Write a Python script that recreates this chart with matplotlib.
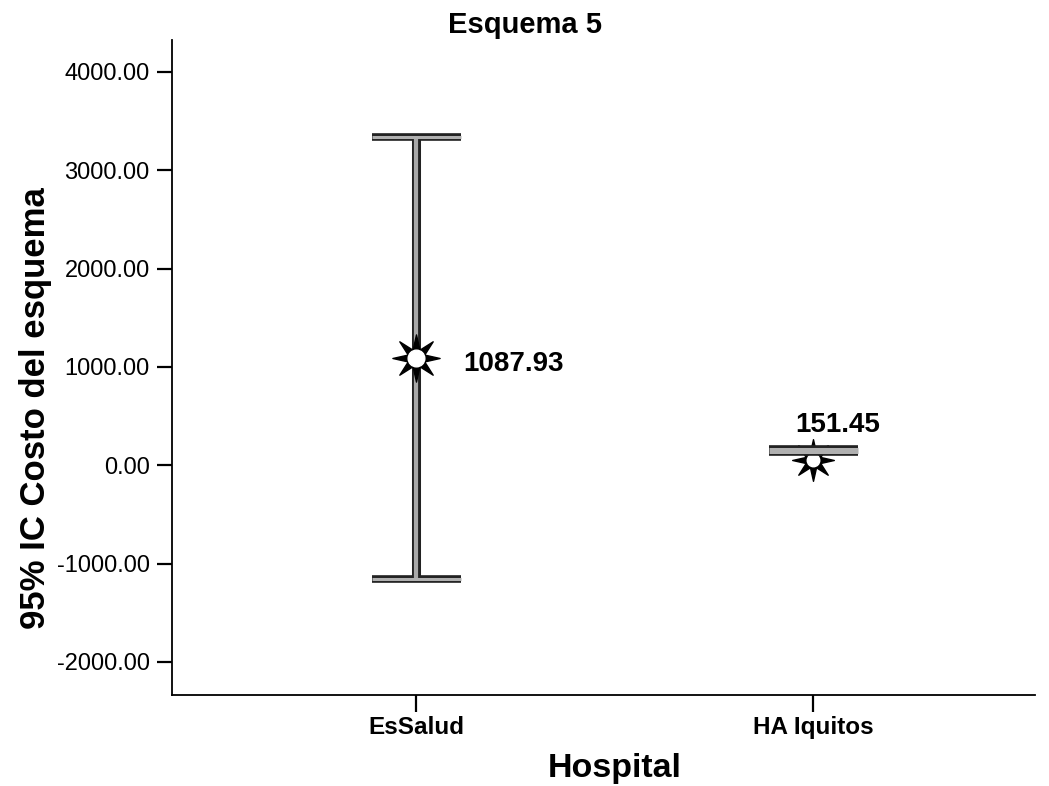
import matplotlib
matplotlib.use("Agg")
import matplotlib.pyplot as plt
from matplotlib.path import Path
import numpy as np

plt.rcParams['font.family'] = ['Liberation Sans', 'DejaVu Sans']

# Data
categories = ["EsSalud", "HA Iquitos"]
means = [1087.93, 151.45]
ci_low = [-1160.0, 138.0]
ci_high = [3335.0, 165.0]
mean_labels = ["1087.93", "151.45"]
yticks = [-2000, -1000, 0, 1000, 2000, 3000, 4000]

# sharp 8-point star marker shape
n_pts = 8
ang = np.arange(2 * n_pts) * np.pi / n_pts + np.pi / 2
rad = np.where(np.arange(2 * n_pts) % 2 == 0, 1.0, 0.38)
verts = np.column_stack([rad * np.cos(ang), rad * np.sin(ang)])
verts = np.vstack([verts, verts[:1]])
star = Path(verts, closed=True)

fig = plt.figure(figsize=(10.49, 7.86), dpi=100)
ax = fig.add_axes([172/1049, 1-695/786, (1035-172)/1049, (695-40)/786])

x = np.arange(len(categories))
cap_half = 0.112
for xi, lo, hi, m in zip(x, ci_low, ci_high, means):
    ax.plot([xi, xi], [lo, hi], color='#222222', lw=6.5, solid_capstyle='butt', zorder=2)
    ax.plot([xi, xi], [lo, hi], color='#a8a8a8', lw=3.0, solid_capstyle='butt', zorder=3)
    for yv in (lo, hi):
        ax.plot([xi-cap_half, xi+cap_half], [yv, yv], color='#222222', lw=5.5,
                solid_capstyle='butt', zorder=2)
        ax.plot([xi-cap_half, xi+cap_half], [yv, yv], color='#b0b0b0', lw=2.2,
                solid_capstyle='butt', zorder=3)

ax.plot(x[0], means[0], marker=star, markersize=34, color='black', zorder=5, linestyle='none')
ax.plot(x[0], means[0], marker='o', markersize=12, color='white', zorder=6, linestyle='none')
ax.plot(x[1], means[1] - 95, marker=star, markersize=30, color='black', zorder=1.5, linestyle='none')
ax.plot(x[1], means[1] - 95, marker='o', markersize=9, color='white', zorder=1.6, linestyle='none')

ax.annotate(mean_labels[0], (x[0], means[0]), xytext=(34, -4), textcoords='offset points',
            ha='left', va='center', fontsize=20, fontweight='bold')
ax.annotate(mean_labels[1], (x[1], means[1]), xytext=(18, 18), textcoords='offset points',
            ha='center', va='center', fontsize=20, fontweight='bold')

ax.set_xlim(-0.615, 1.559)
ax.set_ylim(-2336, 4325)
ax.set_yticks(yticks)
ax.set_yticklabels([f"{v:.2f}" for v in yticks], fontsize=17)
ax.set_xticks(x)
ax.set_xticklabels(categories, fontsize=17.5, fontweight='bold')
ax.tick_params(axis='y', length=11, width=1.6, pad=5)
ax.tick_params(axis='x', length=12, width=1.6, pad=3)
for s in ['top', 'right']:
    ax.spines[s].set_visible(False)
for s in ['left', 'bottom']:
    ax.spines[s].set_linewidth(1.3)

fig.text(525/1049, 1-25/786, "Esquema 5", ha='center', va='center', fontsize=21, fontweight='bold')
fig.text(36/1049, 1-408/786, "95% IC Costo del esquema", rotation=90, ha='center', va='center',
         fontsize=25, fontweight='bold')
fig.text(615/1049, 1-768/786, "Hospital", ha='center', va='center', fontsize=24.5, fontweight='bold')

fig.savefig("out.png", dpi=100)
